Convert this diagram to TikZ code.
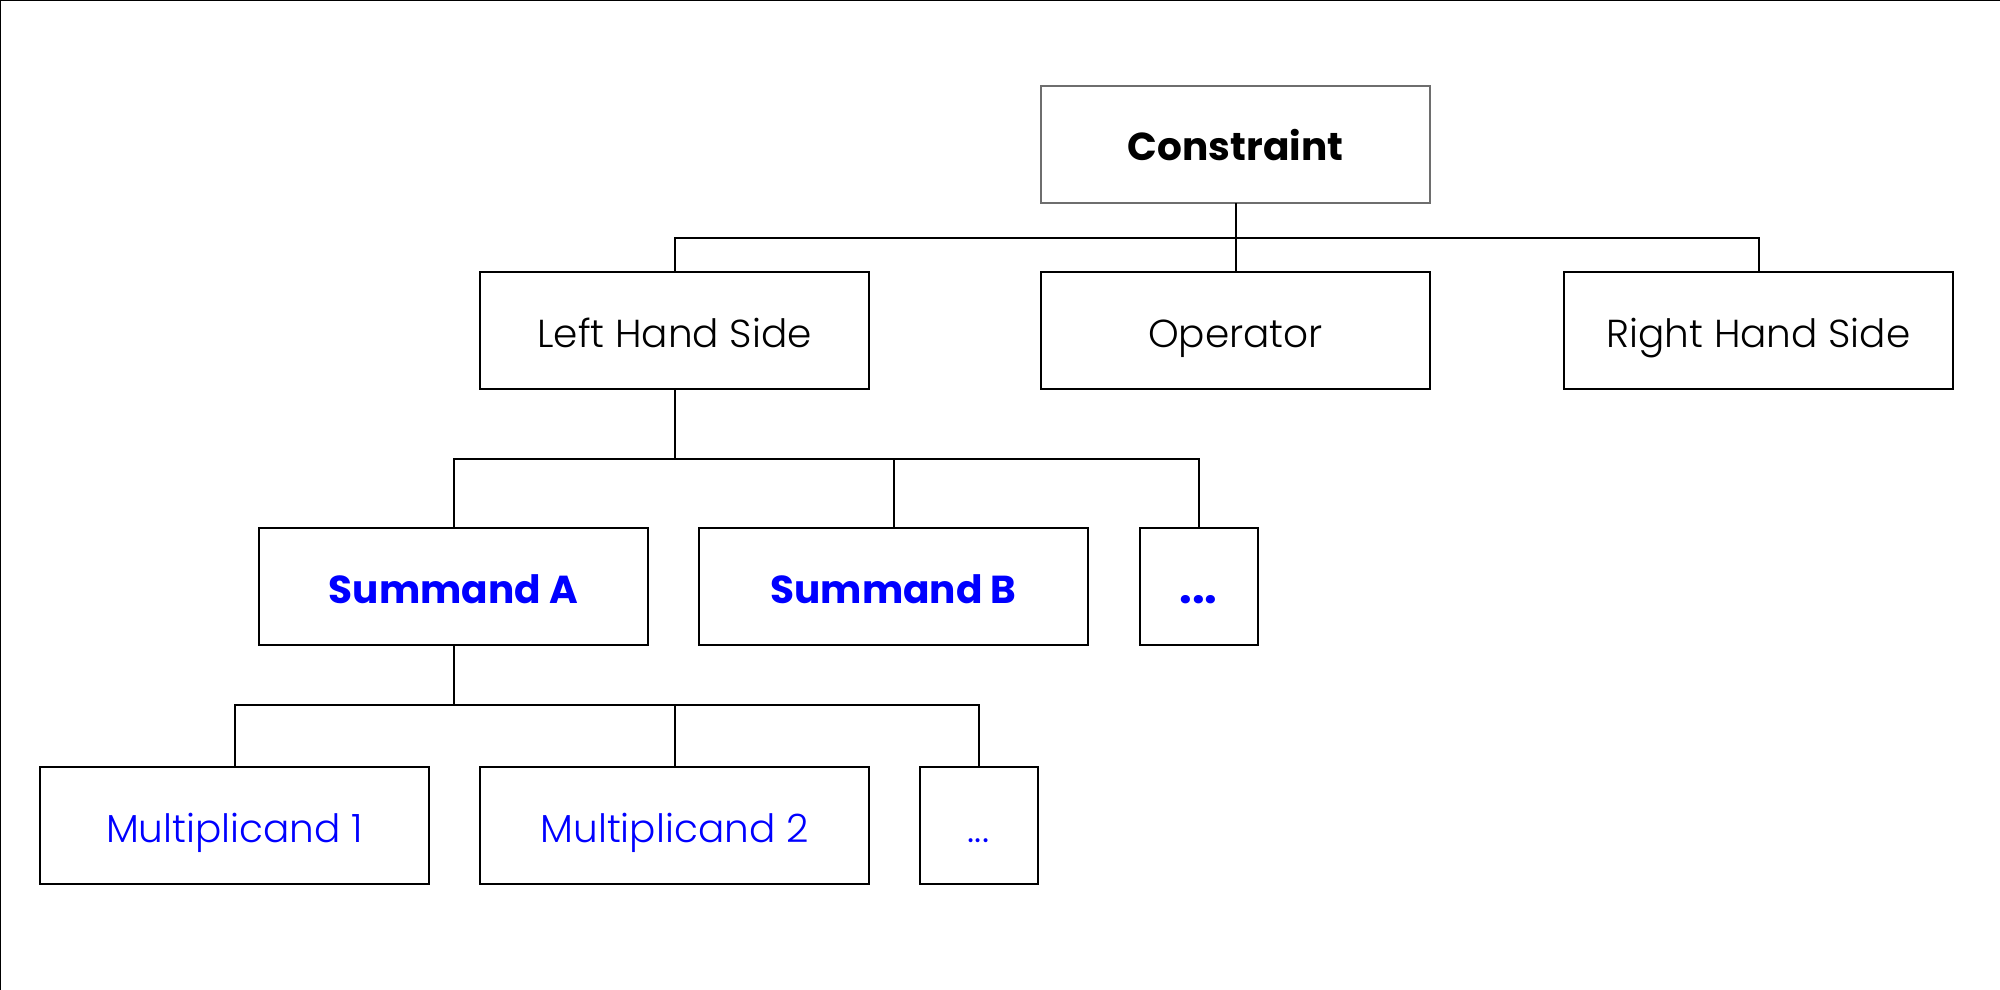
\documentclass[tikz,border=0pt]{standalone}
\usepackage{fontspec}
\setmainfont{Poppins}[BoldFont={* Bold}]
\newfontfamily\plight{Poppins}[UprightFont={* Light}]
\definecolor{tblue}{RGB}{0,0,255}
\definecolor{gborder}{RGB}{110,110,110}
\begin{document}
\begin{tikzpicture}[x=1pt,y=-1pt,
  box/.style={draw=black,line width=2pt,minimum width=389pt,minimum height=117pt,inner sep=0pt,text height=33pt,text depth=0pt,font=\fontsize{39}{45}\selectfont\plight},
  smallbox/.style={box,minimum width=118pt},
  boldt/.style={font=\fontsize{39}{45}\selectfont\bfseries},
  conn/.style={line width=2pt,line cap=rect}]
\useasboundingbox (0,0) rectangle (2000,990);
\draw[line width=2.5pt] (0,990) -- (0,0) -- (2000,0);
% nodes
\node[box,draw=gborder,boldt] (c) at (1235.5,144) {Constraint};
\node[box] (lhs) at (674.5,330.5) {Left Hand Side};
\node[box] (op) at (1235.5,330.5) {Operator};
\node[box] (rhs) at (1758.5,330.5) {Right Hand Side};
\node[box,boldt,text=tblue] (sa) at (453.5,586.5) {Summand A};
\node[box,boldt,text=tblue] (sb) at (893.5,586.5) {Summand B};
\node[smallbox,font=\fontsize{45}{50}\selectfont\bfseries,text=tblue] (sd) at (1198.5,586.5) {...};
\node[box,text=tblue] (m1) at (234.5,825.5) {Multiplicand 1};
\node[box,text=tblue] (m2) at (674.5,825.5) {Multiplicand 2};
\node[smallbox,text=tblue] (md) at (978.5,825.5) {...};
% connectors
\coordinate (b1) at (0,238);
\coordinate (b2) at (0,459);
\coordinate (b3) at (0,705);
\draw[conn] (c.south) -- (c.south |- b1);
\draw[conn] (lhs.north) -- (lhs.north |- b1) -- (rhs.north |- b1) -- (rhs.north);
\draw[conn] (op.north) -- (op.north |- b1);
\draw[conn] (lhs.south) -- (lhs.south |- b2);
\draw[conn] (sa.north) -- (sa.north |- b2) -- (sd.north |- b2) -- (sd.north);
\draw[conn] (sb.north) -- (sb.north |- b2);
\draw[conn] (sa.south) -- (sa.south |- b3);
\draw[conn] (m1.north) -- (m1.north |- b3) -- (md.north |- b3) -- (md.north);
\draw[conn] (m2.north) -- (m2.north |- b3);
\end{tikzpicture}
\end{document}
